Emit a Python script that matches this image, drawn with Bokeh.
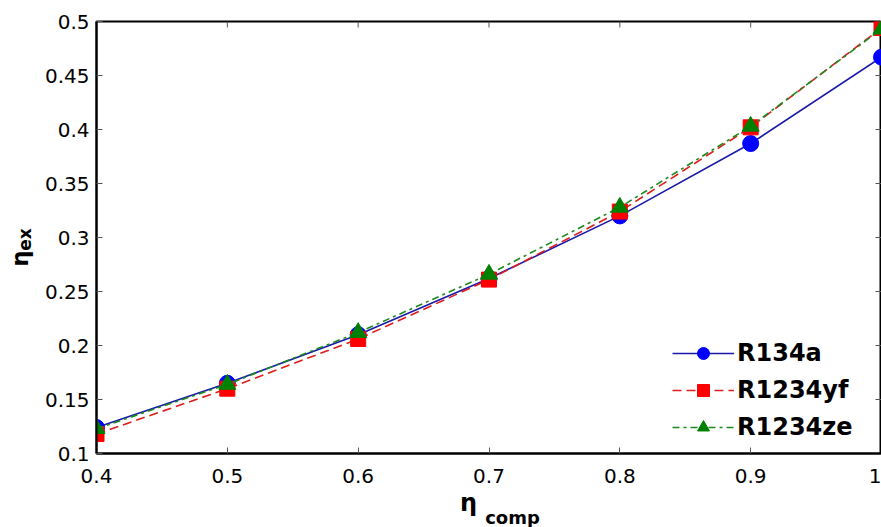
import math
from bokeh.plotting import figure
from bokeh.models import Range1d, Label, Legend, FixedTicker
from bokeh.embed import file_html
from bokeh.resources import INLINE

eta_comp = [0.4, 0.5, 0.6, 0.7, 0.8, 0.9, 1.0]
r134a = [0.124, 0.165, 0.210, 0.262, 0.320, 0.387, 0.467]
r1234yf = [0.118, 0.160, 0.206, 0.261, 0.324, 0.402, 0.494]
r1234ze = [0.123, 0.164, 0.212, 0.266, 0.328, 0.403, 0.493]
x_ticks = [0.4, 0.5, 0.6, 0.7, 0.8, 0.9, 1.0]
y_ticks = [0.1, 0.15, 0.2, 0.25, 0.3, 0.35, 0.4, 0.45, 0.5]

TICK_FONT = "DejaVu Sans"

p = figure(width=881, height=527, output_backend="svg", toolbar_location=None,
           x_range=Range1d(0.4, 1.0), y_range=Range1d(0.1, 0.5),
           min_border_left=96, min_border_top=21, min_border_bottom=74, min_border_right=0)
p.background_fill_color = "white"
p.border_fill_color = "white"
p.outline_line_color = "black"
p.outline_line_width = 2
p.xgrid.visible = False
p.ygrid.visible = False

for ax in (p.xaxis[0], p.yaxis[0]):
    ax.axis_line_width = 2
    ax.axis_line_color = "black"
    ax.major_tick_in = 6
    ax.major_tick_out = 0
    ax.minor_tick_line_color = None
    ax.major_tick_line_color = "#555555"
    ax.major_tick_line_width = 1
    ax.major_label_text_font = TICK_FONT
    ax.major_label_text_font_size = "20px"
    ax.major_label_text_color = "black"

p.xaxis.ticker = FixedTicker(ticks=x_ticks)
p.yaxis.ticker = FixedTicker(ticks=y_ticks)
p.xaxis.major_label_overrides = {1.0: "1"}
p.xaxis.major_label_standoff = 15
p.yaxis.major_label_standoff = 7

# inward ticks on the top and right edges of the box
p.ray(x=x_ticks, y=[y_ticks[-1]] * len(x_ticks), length=6, length_units="screen",
      angle=-math.pi / 2, line_color="#555555", line_width=1)
p.ray(x=[x_ticks[-1]] * len(y_ticks), y=y_ticks, length=6, length_units="screen",
      angle=math.pi, line_color="#555555", line_width=1)

l1 = p.line(eta_comp, r134a, line_color="#1a1aaa", line_width=1.6)
m1 = p.scatter(eta_comp, r134a, marker="circle", size=16, fill_color="#0000ff", line_color="#0000ff")
l2 = p.line(eta_comp, r1234yf, line_color="#dd1c1c", line_width=1.6, line_dash="9 5")
m2 = p.scatter(eta_comp, r1234yf, marker="square", size=15, fill_color="#ff0000", line_color="#ff0000")
l3 = p.line(eta_comp, r1234ze, line_color="#1c8a1c", line_width=1.6, line_dash="7 4 3 4")
m3 = p.scatter(eta_comp, r1234ze, marker="triangle", size=17, fill_color="#008000", line_color="#008000")

legend = Legend(items=[("R134a", [l1, m1]), ("R1234yf", [l2, m2]), ("R1234ze", [l3, m3])],
                location=(576, 11))
legend.border_line_color = None
legend.background_fill_alpha = 0
legend.label_text_font = "DejaVu Sans"
legend.label_text_font_style = "bold"
legend.label_text_font_size = "24px"
legend.label_text_color = "black"
legend.glyph_width = 62
legend.glyph_height = 30
legend.label_height = 30
legend.spacing = 7
legend.padding = 4
legend.margin = 0
legend.label_standoff = 3
p.add_layout(legend)

# axis titles with subscripts; each sits in a side panel where it has room
def title_label(x, y, text, size, angle=0.0):
    return Label(x=x, y=y, x_units="screen", y_units="screen", text=text, angle=angle,
                 text_align="center", text_baseline="middle", text_color="black",
                 text_font="DejaVu Sans", text_font_size=size, text_font_style="bold")

p.add_layout(title_label(-77, -237, "η", "23px", math.pi / 2), "above")   # y title
p.add_layout(title_label(3, 214, "ex", "17px", math.pi / 2), "left")      # y subscript
p.add_layout(title_label(464, -49, "η", "24px"), "left")                  # x title
p.add_layout(title_label(416, -11, "comp", "18px"), "below")              # x subscript

open("out.html", "w").write(file_html(p, INLINE))
